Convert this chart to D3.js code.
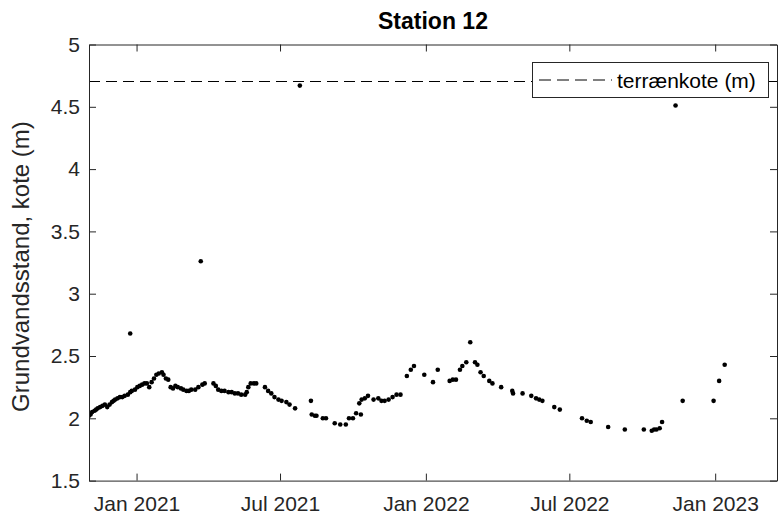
<!DOCTYPE html>
<html>
<head>
<meta charset="utf-8">
<script src="https://cdn.jsdelivr.net/npm/d3@7"></script>
<style>
  html, body { margin: 0; padding: 0; background: #ffffff; }
  svg { display: block; }
  text { font-family: "Liberation Sans", Arial, Helvetica, sans-serif; }
</style>
</head>
<body>
<svg id="chart" width="778" height="520"></svg>
<script>
// ---- data ----
const chartTitle = "Station 12";
const yLabel = "Grundvandsstand, kote (m)";
const legendLabel = "terrænkote (m)";
const terrainLevel = 4.70;

const dates = [
  "2020-11-02","2020-11-04","2020-11-06","2020-11-09","2020-11-11","2020-11-13","2020-11-16","2020-11-19",
  "2020-11-22","2020-11-25","2020-11-28","2020-12-01","2020-12-03","2020-12-05","2020-12-08","2020-12-11",
  "2020-12-14","2020-12-17","2020-12-21","2020-12-24","2020-12-24","2020-12-26","2020-12-30","2021-01-02",
  "2021-01-05","2021-01-08","2021-01-11","2021-01-14","2021-01-17","2021-01-20","2021-01-23","2021-01-26",
  "2021-01-29","2021-02-02","2021-02-04","2021-02-07","2021-02-10","2021-02-13","2021-02-16","2021-02-19",
  "2021-02-22","2021-02-26","2021-03-01","2021-03-05","2021-03-08","2021-03-11","2021-03-16","2021-03-20",
  "2021-03-23","2021-03-25","2021-03-28","2021-04-08","2021-04-11","2021-04-14","2021-04-18","2021-04-22",
  "2021-04-27","2021-05-01","2021-05-05","2021-05-09","2021-05-13","2021-05-18","2021-05-20","2021-05-22",
  "2021-05-25","2021-05-29","2021-06-01","2021-06-12","2021-06-16","2021-06-20","2021-06-24","2021-06-29",
  "2021-07-03","2021-07-09","2021-07-13","2021-07-20","2021-07-26","2021-08-09","2021-08-10","2021-08-14",
  "2021-08-16","2021-08-24","2021-08-28","2021-09-08","2021-09-15","2021-09-22","2021-09-26","2021-10-01",
  "2021-10-05","2021-10-11","2021-10-09","2021-10-12","2021-10-16","2021-10-20","2021-10-27","2021-11-02",
  "2021-11-06","2021-11-10","2021-11-15","2021-11-20","2021-11-25","2021-11-30","2021-12-08","2021-12-13",
  "2021-12-17","2021-12-30","2022-01-10","2022-01-16","2022-01-31","2022-02-04","2022-02-08","2022-02-13",
  "2022-02-16","2022-02-21","2022-02-26","2022-03-04","2022-03-07","2022-03-11","2022-03-15","2022-03-22",
  "2022-03-26","2022-04-06","2022-04-20","2022-04-21","2022-05-03","2022-05-14","2022-05-20","2022-05-24",
  "2022-05-28","2022-06-12","2022-06-19","2022-07-17","2022-07-23","2022-07-28","2022-08-19","2022-09-09",
  "2022-10-03","2022-10-13","2022-10-16","2022-10-19","2022-10-23","2022-10-26","2022-11-12","2022-11-21",
  "2022-12-30","2023-01-06","2023-01-13"
];
const levels = [
  2.02,2.03,2.05,2.06,2.07,2.08,2.09,2.10,
  2.11,2.09,2.11,2.13,2.14,2.15,2.16,2.17,
  2.17,2.18,2.19,2.21,2.68,2.22,2.23,2.25,
  2.26,2.27,2.28,2.28,2.25,2.29,2.32,2.35,
  2.36,2.37,2.35,2.32,2.31,2.25,2.24,2.26,
  2.25,2.24,2.23,2.22,2.22,2.23,2.23,2.25,
  3.26,2.27,2.28,2.28,2.26,2.23,2.22,2.22,
  2.21,2.21,2.20,2.20,2.19,2.19,2.21,2.25,
  2.28,2.28,2.28,2.25,2.22,2.20,2.17,2.15,
  2.14,2.13,2.11,2.08,4.67,2.14,2.03,2.02,
  2.02,2.00,2.00,1.96,1.95,1.95,2.00,2.00,
  2.04,2.03,2.12,2.15,2.16,2.18,2.15,2.16,
  2.14,2.14,2.15,2.17,2.19,2.19,2.34,2.39,
  2.42,2.35,2.29,2.39,2.30,2.31,2.31,2.39,
  2.42,2.45,2.61,2.45,2.43,2.37,2.34,2.30,
  2.28,2.25,2.22,2.20,2.20,2.18,2.16,2.15,
  2.14,2.09,2.07,2.00,1.98,1.97,1.93,1.91,
  1.91,1.90,1.91,1.91,1.92,1.97,4.51,2.14,
  2.14,2.30,2.43
];

const xDomain = ["2020-11-02", "2023-03-20"];
const xTickDates = ["2021-01-01", "2021-07-01", "2022-01-01", "2022-07-01", "2023-01-01"];
const xTickLabels = ["Jan 2021", "Jul 2021", "Jan 2022", "Jul 2022", "Jan 2023"];
const yDomain = [1.5, 5];
const yTicks = [1.5, 2, 2.5, 3, 3.5, 4, 4.5, 5];
const yTickLabels = ["1.5", "2", "2.5", "3", "3.5", "4", "4.5", "5"];

// ---- layout ----
const svg = d3.select("#chart");
const plotL = 89, plotR = 777, plotT = 44.5, plotB = 480.6;
const axisColor = "#262626";
const parse = d3.utcParse("%Y-%m-%d");

const x = d3.scaleUtc().domain(xDomain.map(parse)).range([plotL, plotR]);
const y = d3.scaleLinear().domain(yDomain).range([plotB, plotT]);

const data = dates.map((d, i) => ({ date: parse(d), value: levels[i] }));

// clip
svg.append("defs").append("clipPath").attr("id", "plotclip")
  .append("rect").attr("x", plotL).attr("y", plotT).attr("width", plotR - plotL).attr("height", plotB - plotT);

// terrain dashed line
svg.append("line")
  .attr("clip-path", "url(#plotclip)")
  .attr("x1", plotL).attr("x2", plotR)
  .attr("y1", y(terrainLevel)).attr("y2", y(terrainLevel))
  .attr("stroke", "#000").attr("stroke-width", 1)
  .attr("shape-rendering", "crispEdges")
  .attr("stroke-dasharray", "11,6");

// points
svg.append("g").attr("clip-path", "url(#plotclip)")
  .selectAll("circle").data(data).enter().append("circle")
  .attr("cx", d => x(d.date)).attr("cy", d => y(d.value))
  .attr("r", 2.3).attr("fill", "#000");

// axes
const tickLen = 7;
const tickFont = 21;
const xTickVals = xTickDates.map(parse);
const xAxisB = d3.axisBottom(x).tickValues(xTickVals).tickSizeInner(-tickLen).tickSizeOuter(0)
  .tickPadding(15).tickFormat((d, i) => xTickLabels[i]);
const xAxisT = d3.axisTop(x).tickValues(xTickVals).tickSizeInner(-tickLen).tickSizeOuter(0).tickFormat("");
const yAxisL = d3.axisLeft(y).tickValues(yTicks).tickSizeInner(-tickLen).tickSizeOuter(0)
  .tickPadding(9).tickFormat((d, i) => yTickLabels[i]);
const yAxisR = d3.axisRight(y).tickValues(yTicks).tickSizeInner(-tickLen).tickSizeOuter(0).tickFormat("");

function style(g, fs) {
  g.selectAll("path").attr("stroke", axisColor).attr("stroke-width", 1);
  g.selectAll("line").attr("stroke", axisColor).attr("stroke-width", 1);
  g.selectAll("text").attr("fill", axisColor).style("font-size", fs + "px");
}
svg.append("g").attr("transform", `translate(0,${plotB})`).call(xAxisB).call(g => style(g, tickFont));
svg.append("g").attr("transform", `translate(0,${plotT})`).call(xAxisT).call(g => style(g, tickFont));
svg.append("g").attr("transform", `translate(${plotL},0)`).call(yAxisL).call(g => style(g, tickFont));
svg.append("g").attr("transform", `translate(${plotR},0)`).call(yAxisR).call(g => style(g, tickFont));

// title
svg.append("text").attr("x", (plotL + plotR) / 2).attr("y", 29)
  .attr("text-anchor", "middle").attr("font-weight", "bold")
  .style("font-size", "23px").attr("fill", "#000").text(chartTitle);

// y label
svg.append("text")
  .attr("transform", `translate(29,${(plotT + plotB) / 2 + 4}) rotate(-90)`)
  .attr("text-anchor", "middle").style("font-size", "24px").attr("fill", axisColor)
  .text(yLabel);

// legend
const lg = svg.append("g");
const lgX = 532, lgY = 62, lgW = 236, lgH = 35;
lg.append("rect").attr("x", lgX + 0.5).attr("y", lgY + 0.5).attr("width", lgW).attr("height", lgH)
  .attr("fill", "#fff").attr("stroke", axisColor).attr("stroke-width", 1);
lg.append("line").attr("x1", lgX + 7).attr("x2", lgX + 80)
  .attr("y1", lgY + lgH / 2 + 0.5).attr("y2", lgY + lgH / 2 + 0.5)
  .attr("stroke", "#000").attr("stroke-width", 1).attr("stroke-dasharray", "12,6");
lg.append("text").attr("x", lgX + 85).attr("y", lgY + lgH / 2 + 8)
  .style("font-size", "21px").attr("fill", "#000").text(legendLabel);
</script>
</body>
</html>
